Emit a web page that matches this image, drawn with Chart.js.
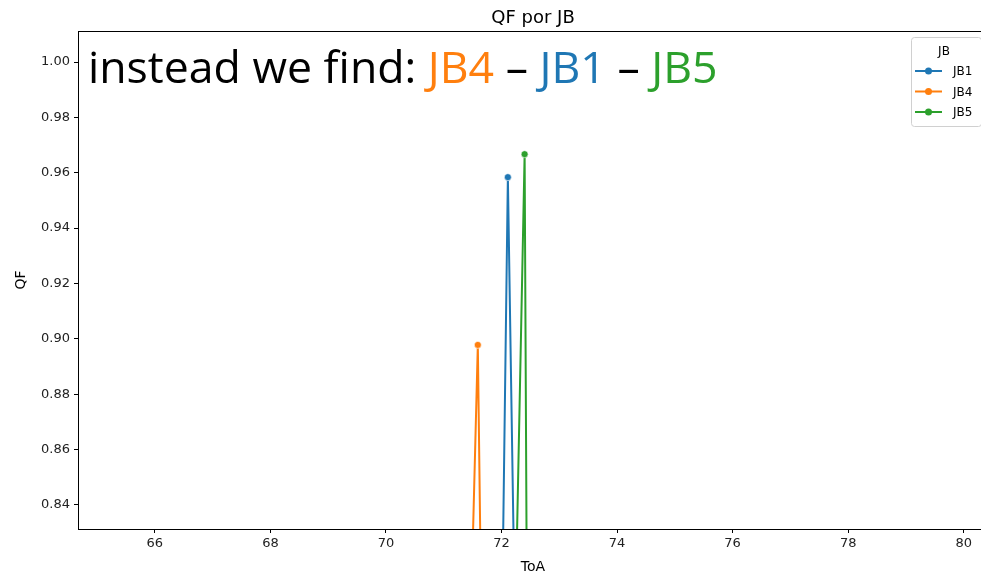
<!DOCTYPE html>
<html lang="en">
<head>
    <title>QF por JB</title>
    <script src="https://cdn.jsdelivr.net/npm/chart.js"></script>
    <style>
        html, body { margin: 0; padding: 0; background: #fff; overflow: hidden; }
        #wrap { position: relative; width: 995px; height: 571px; }
    </style>
</head>
<body>
    <div id="wrap"><canvas id="qfChart"></canvas></div>

    <script>
        // values
        const jb1ToA = [72.01, 72.11, 72.23];
        const jb1QF = [0.80, 0.9584, 0.80];
        const jb4ToA = [71.47, 71.59, 71.65];
        const jb4QF = [0.80, 0.8978, 0.80];
        const jb5ToA = [72.24, 72.40, 72.44];
        const jb5QF = [0.80, 0.9667, 0.80];

        const seriesNames = ['JB1', 'JB4', 'JB5'];
        const seriesColors = ['#1f77b4', '#ff7f0e', '#2ca02c'];

        const xTicks = [66, 68, 70, 72, 74, 76, 78, 80];
        const yTicks = [0.84, 0.86, 0.88, 0.90, 0.92, 0.94, 0.96, 0.98, 1.00];

        // annotation: "instead we find: JB4 – JB1 – JB5"
        const notePieces = [
            ['instead we find: ', '#000'],
            ['JB4', '#ff7f0e'],
            [' – ', '#000'],
            ['JB1', '#1f77b4'],
            [' – ', '#000'],
            ['JB5', '#2ca02c'],
        ];

        const toPoints = (xs, ys) => xs.map((x, i) => ({ x: x, y: ys[i] }));
        const allSeries = [toPoints(jb1ToA, jb1QF), toPoints(jb4ToA, jb4QF), toPoints(jb5ToA, jb5QF)];

        const tickFont = { family: 'DejaVu Sans', size: 13 };

        // frame, titles, annotation and legend drawn on top
        const decorations = {
            id: 'decorations',
            afterDraw(chart) {
                const ctx = chart.ctx;
                const a = chart.chartArea;
                ctx.save();
                ctx.strokeStyle = '#000';
                ctx.lineWidth = 1;
                ctx.strokeRect(a.left + 0.5, a.top + 0.5, a.right - a.left, a.bottom - a.top);

                ctx.fillStyle = '#000';
                ctx.textAlign = 'center';
                ctx.textBaseline = 'alphabetic';
                ctx.font = '18px "DejaVu Sans"';
                ctx.fillText('QF por JB', (a.left + a.right) / 2, 23);
                ctx.font = '14px "DejaVu Sans"';
                ctx.fillText('ToA', (a.left + a.right) / 2, 571);
                ctx.save();
                ctx.translate(25, (a.top + a.bottom) / 2);
                ctx.rotate(-Math.PI / 2);
                ctx.fillText('QF', 0, 0);
                ctx.restore();

                // big annotation text, fitted to its width in the reference
                let size = 42;
                ctx.font = size + 'px "Open Sans"';
                const full = notePieces.map(p => p[0]).join('');
                size = size * 629 / ctx.measureText(full).width;
                ctx.font = size.toFixed(1) + 'px "Open Sans"';
                ctx.textAlign = 'left';
                let x = 88;
                notePieces.forEach(p => {
                    ctx.fillStyle = p[1];
                    ctx.fillText(p[0], x, 83);
                    x += ctx.measureText(p[0]).width;
                });

                // legend box
                const lx = 911, ly = 37, lw = 70, lh = 89;
                ctx.fillStyle = 'rgba(255,255,255,0.8)';
                ctx.strokeStyle = '#d0d0d0';
                ctx.beginPath();
                ctx.roundRect(lx + 0.5, ly + 0.5, lw, lh, 3);
                ctx.fill();
                ctx.stroke();
                ctx.fillStyle = '#000';
                ctx.font = '12px "DejaVu Sans"';
                ctx.textAlign = 'center';
                ctx.fillText('JB', 944, 55);
                seriesNames.forEach((name, i) => {
                    const yy = 71 + i * 20.5;
                    ctx.strokeStyle = seriesColors[i];
                    ctx.lineWidth = 2;
                    ctx.beginPath();
                    ctx.moveTo(915, yy);
                    ctx.lineTo(942, yy);
                    ctx.stroke();
                    ctx.fillStyle = seriesColors[i];
                    ctx.beginPath();
                    ctx.arc(928.5, yy, 3.5, 0, Math.PI * 2);
                    ctx.fill();
                    ctx.fillStyle = '#000';
                    ctx.textAlign = 'left';
                    ctx.textBaseline = 'middle';
                    ctx.fillText(name, 953, yy + 1);
                    ctx.textBaseline = 'alphabetic';
                });
                ctx.restore();
            }
        };

        new Chart(document.getElementById('qfChart'), {
            type: 'line',
            data: {
                datasets: allSeries.map((pts, i) => ({
                    label: seriesNames[i],
                    data: pts,
                    borderColor: seriesColors[i],
                    backgroundColor: seriesColors[i],
                    borderWidth: 2,
                    pointRadius: 3.5,
                    pointBorderColor: '#fff',
                    pointBorderWidth: 0.6,
                    pointHoverRadius: 3.5,
                    tension: 0,
                })),
            },
            options: {
                responsive: true,
                maintainAspectRatio: false,
                animation: false,
                events: [],
                layout: { padding: { left: 0, right: 7, top: 31, bottom: 0 } },
                plugins: {
                    legend: { display: false },
                    title: { display: false },
                    tooltip: { enabled: false },
                },
                scales: {
                    x: {
                        type: 'linear',
                        min: 64.67,
                        max: 80.42,
                        afterBuildTicks: (s) => { s.ticks = xTicks.map(v => ({ value: v })); },
                        afterFit: (s) => { s.height = 42; },
                        grid: { drawOnChartArea: false, drawTicks: true, tickLength: 4, color: '#000' },
                        border: { color: '#000' },
                        ticks: { color: '#222', font: tickFont, padding: 3, maxRotation: 0 },
                    },
                    y: {
                        type: 'linear',
                        min: 0.8313,
                        max: 1.0112,
                        afterBuildTicks: (s) => { s.ticks = yTicks.map(v => ({ value: v })); },
                        afterFit: (s) => { s.width = 78; },
                        grid: { drawOnChartArea: false, drawTicks: true, tickLength: 4, color: '#000' },
                        border: { color: '#000' },
                        ticks: { color: '#222', font: tickFont, padding: 4, callback: (v) => v.toFixed(2) },
                    },
                },
            },
            plugins: [decorations],
        });
    </script>
</body>
</html>
